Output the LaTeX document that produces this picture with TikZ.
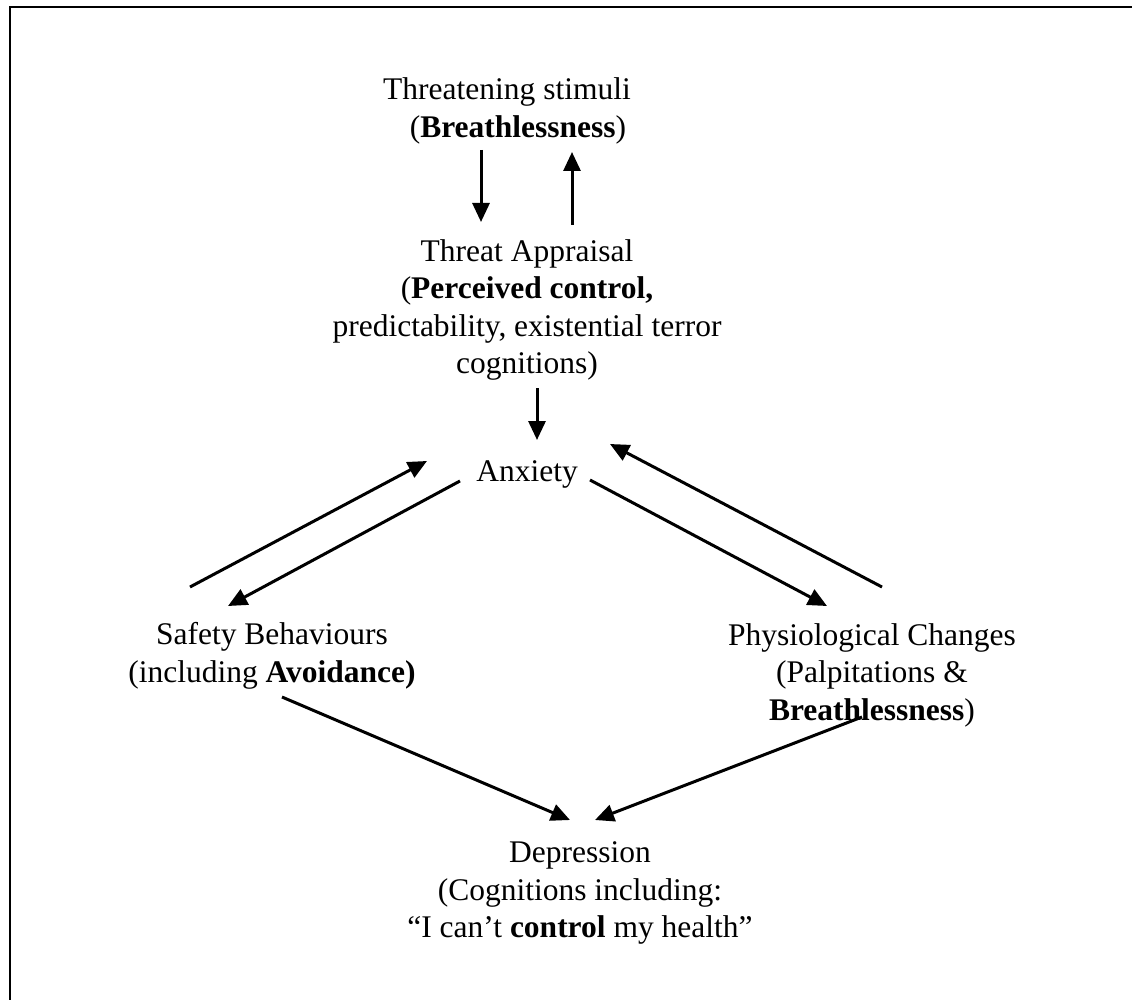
\documentclass[tikz,border=0pt]{standalone}
\usepackage{fontspec}
\setmainfont{Liberation Serif}
\usepackage{tikz}
\usetikzlibrary{arrows.meta,positioning}

\begin{document}
\begin{tikzpicture}[
                    x=1pt,
                    y=1pt,
                    ->,
                    >={Triangle[length=19pt,width=17pt]},
                    line width=3pt,
                    on grid,
                    txt/.style={align=center, inner sep=0pt,
                                font=\fontsize{31.5}{37.5}\selectfont}
                ]
                \useasboundingbox (0,0) rectangle (1132,-1000);
                \draw[-, line width=2.5pt] (1140,-7) -- (10,-7) -- (10,-1010);

                \node[txt] (stim) at (507,-111) {Threatening stimuli\\ \hspace*{22pt}(\textbf{Breathlessness})} ;
                \node[txt] (appr) [below right=199pt and 20pt of stim] {Threat Appraisal\\ (\textbf{Perceived control,}\\ predictability, existential terror\\ cognitions)} ;
                \node[txt] (anx) [below=164pt of appr] {Anxiety} ;
                \node[txt] (safe) [below left=182pt and 255pt of anx] {Safety Behaviours\\ (including \textbf{Avoidance)}} ;
                \node[txt] (phys) [below right=201pt and 345pt of anx] {Physiological Changes\\ (Palpitations \&\\ \textbf{Breathlessness})} ;
                \node[txt] (dep) [below right=419pt and 53pt of anx] {Depression\\ (Cognitions including:\\ “I can’t \textbf{control} my health”} ;

                \path
                ([shift={(-26,-39)}]stim.center) edge ([shift={(-46,88)}]appr.center)
                ([shift={(45,85)}]appr.center) edge ([shift={(65,-41)}]stim.center)
                ([shift={(10,-78)}]appr.center) edge ([shift={(10,34)}]anx.center)
                ([shift={(-82,69)}]safe.center) edge ([shift={(-100,13)}]anx.center)
                ([shift={(-67,-7)}]anx.center) edge ([shift={(-44,50)}]safe.center)
                ([shift={(63,-6)}]anx.center) edge ([shift={(-45,69)}]phys.center)
                ([shift={(10,88)}]phys.center) edge ([shift={(83,30)}]anx.center)
                ([shift={(10,-41)}]safe.center) edge ([shift={(-10,73)}]dep.center)
                ([shift={(-10,-42)}]phys.center) edge ([shift={(15,73)}]dep.center)
                ;
            \end{tikzpicture}
\end{document}
